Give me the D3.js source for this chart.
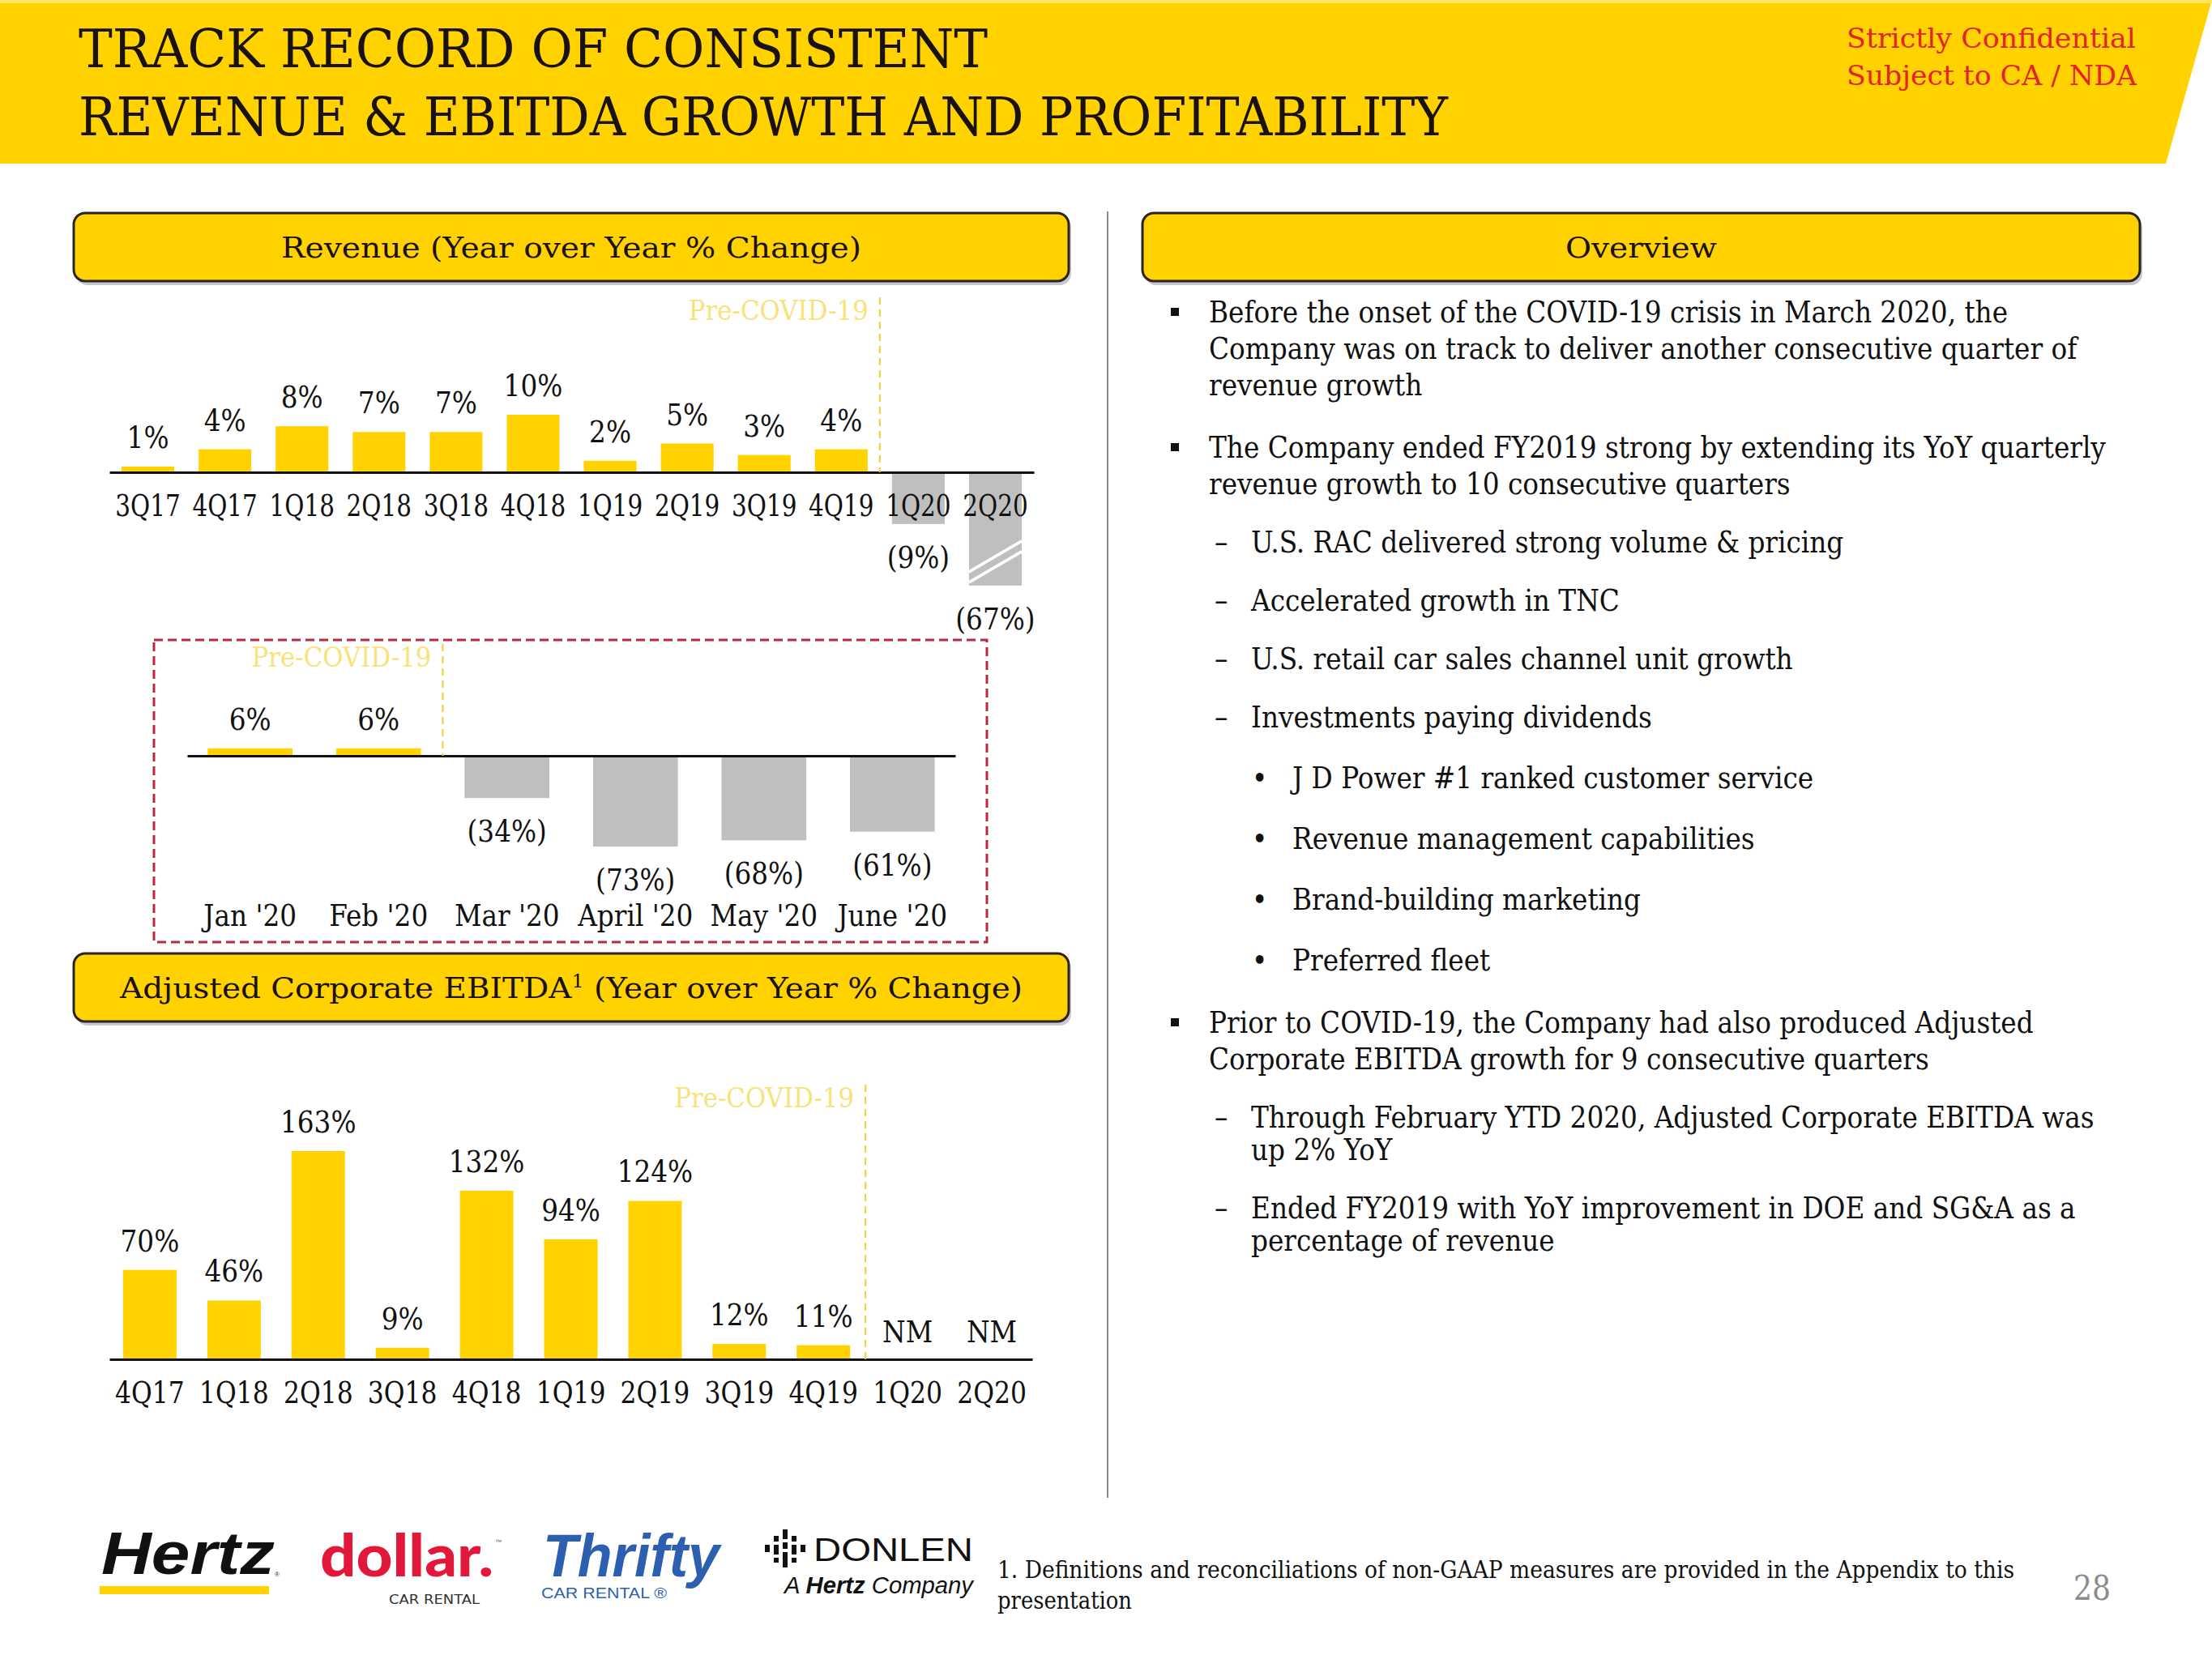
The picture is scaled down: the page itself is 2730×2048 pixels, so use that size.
<!DOCTYPE html>
<html><head><meta charset="utf-8">
<script src="https://cdn.jsdelivr.net/npm/d3@7/dist/d3.min.js"></script>
<style>html,body{margin:0;padding:0;background:#fff;} svg{display:block}</style>
</head><body>
<svg id="c" width="2730" height="2048"></svg>
<script>
// ---------------- DATA ----------------
const revenueQuarters = ["3Q17","4Q17","1Q18","2Q18","3Q18","4Q18","1Q19","2Q19","3Q19","4Q19","1Q20","2Q20"];
const revenueValues   = [1, 4, 8, 7, 7, 10, 2, 5, 3, 4, -9, -67];
const revenuePreCovidLast = "4Q19";

const monthLabels = ["Jan '20","Feb '20","Mar '20","April '20","May '20","June '20"];
const monthValues = [6, 6, -34, -73, -68, -61];
const monthPreCovidLast = "Feb '20";

const ebitdaQuarters = ["4Q17","1Q18","2Q18","3Q18","4Q18","1Q19","2Q19","3Q19","4Q19","1Q20","2Q20"];
const ebitdaValues   = [70, 46, 163, 9, 132, 94, 124, 12, 11, null, null];
const ebitdaPreCovidLast = "4Q19";

const overviewItems = [
  {level:0, lines:["Before the onset of the COVID-19 crisis in March 2020, the","Company was on track to deliver another consecutive quarter of","revenue growth"]},
  {level:0, lines:["The Company ended FY2019 strong by extending its YoY quarterly","revenue growth to 10 consecutive quarters"]},
  {level:1, lines:["U.S. RAC delivered strong volume & pricing"]},
  {level:1, lines:["Accelerated growth in TNC"]},
  {level:1, lines:["U.S. retail car sales channel unit growth"]},
  {level:1, lines:["Investments paying dividends"]},
  {level:2, lines:["J D Power #1 ranked customer service"]},
  {level:2, lines:["Revenue management capabilities"]},
  {level:2, lines:["Brand-building marketing"]},
  {level:2, lines:["Preferred fleet"]},
  {level:0, lines:["Prior to COVID-19, the Company had also produced Adjusted","Corporate EBITDA growth for 9 consecutive quarters"]},
  {level:1, lines:["Through February YTD 2020, Adjusted Corporate EBITDA was","up 2% YoY"]},
  {level:1, lines:["Ended FY2019 with YoY improvement in DOE and SG&A as a","percentage of revenue"]}
];

// ---------------- STYLE ----------------
const SERIF = "'DejaVu Serif Condensed','DejaVu Serif',serif";
const SANS = "'Liberation Sans',Arial,sans-serif";
const YELLOW = "#FFD200";
const GRAY = "#BFBFBF";
const PRE = "#F7E37A";
const fmt = v => v == null ? "NM" : (v >= 0 ? `${v}%` : `(${-v}%)`);

const svg = d3.select("#c");

function measure(text, size) {
  const t = svg.append("text").attr("font-family", SERIF).attr("font-size", size).text(text);
  const w = t.node().getComputedTextLength(); t.remove(); return w;
}
const SQ = 986 / measure("Before the onset of the COVID-19 crisis in March 2020, the", 38);

function squeeze(sel, f) {
  sel.each(function() {
    const w = this.getComputedTextLength();
    d3.select(this).attr("textLength", w * f).attr("lengthAdjust", "spacingAndGlyphs");
  });
  return sel;
}

function stext(g, x, y, txt, opt = {}) {
  const t = g.append("text")
    .attr("x", x).attr("y", y)
    .attr("font-family", SERIF).attr("font-size", opt.size || 38)
    .attr("fill", opt.fill || "#111")
    .attr("text-anchor", opt.anchor || "start")
    .text(txt);
  squeeze(t, SQ * (opt.f || 1));
  return t;
}

// ---------------- HEADER ----------------
svg.append("polygon").attr("points", "0,0 2730,0 2673,202 0,202").attr("fill", YELLOW);
svg.append("rect").attr("x",0).attr("y",0).attr("width",2730).attr("height",4).attr("fill","#FFE566");
svg.append("text").attr("x", 97).attr("y", 83).attr("font-family", SERIF).attr("font-size", 66)
  .attr("fill", "#1a1111").attr("textLength", 1122).attr("lengthAdjust", "spacingAndGlyphs")
  .text("TRACK RECORD OF CONSISTENT");
svg.append("text").attr("x", 97).attr("y", 167).attr("font-family", SERIF).attr("font-size", 66)
  .attr("fill", "#1a1111").attr("textLength", 1690).attr("lengthAdjust", "spacingAndGlyphs")
  .text("REVENUE & EBITDA GROWTH AND PROFITABILITY");
svg.append("text").attr("x", 2279).attr("y", 59).attr("font-family", SERIF).attr("font-size", 34)
  .attr("fill", "#E3242B").attr("textLength", 357).attr("lengthAdjust", "spacingAndGlyphs")
  .text("Strictly Confidential");
svg.append("text").attr("x", 2279).attr("y", 105).attr("font-family", SERIF).attr("font-size", 34)
  .attr("fill", "#E3242B").attr("textLength", 358).attr("lengthAdjust", "spacingAndGlyphs")
  .text("Subject to CA / NDA");

// ---------------- TITLE BOXES ----------------
function titleBox(x, y, w, h, tl, baseline, build) {
  svg.append("rect").attr("x", x + 3).attr("y", y + 5).attr("width", w).attr("height", h).attr("rx", 14)
    .attr("fill", "#9a9a9a").attr("opacity", 0.55);
  svg.append("rect").attr("x", x).attr("y", y).attr("width", w).attr("height", h).attr("rx", 14)
    .attr("fill", YELLOW).attr("stroke", "#2a2326").attr("stroke-width", 3);
  const t = svg.append("text").attr("x", x + w / 2).attr("y", baseline).attr("text-anchor", "middle")
    .attr("font-family", SERIF).attr("font-size", 36).attr("fill", "#1a1111")
    .attr("textLength", tl).attr("lengthAdjust", "spacingAndGlyphs");
  build(t);
}
titleBox(91, 263, 1228, 84, 716, 318, t => t.text("Revenue (Year over Year % Change)"));
titleBox(91, 1177, 1228, 84, 1114, 1232, t => {
  t.append("tspan").text("Adjusted Corporate EBITDA");
  t.append("tspan").attr("font-size", 22).attr("dy", -13).text("1");
  t.append("tspan").attr("dy", 13).text(" (Year over Year % Change)");
});
titleBox(1410, 263, 1231, 84, 187, 318, t => t.text("Overview"));

// separator
svg.append("line").attr("x1", 1367).attr("x2", 1367).attr("y1", 261).attr("y2", 1849)
  .attr("stroke", "#8a8a8a").attr("stroke-width", 2);

// ---------------- GENERIC BAR CHART ----------------
function barChart(cfg) {
  const g = svg.append("g");
  const x = d3.scaleBand().domain(cfg.cats).range(cfg.xRange)
    .paddingInner(cfg.padIn).paddingOuter(cfg.padOut);
  const y = d3.scaleLinear().domain(cfg.yDomain).range(cfg.yRange);
  const y0 = y(0);
  const data = cfg.cats.map((c, i) => ({c, v: cfg.vals[i], i}));
  const shown = v => cfg.floor != null ? Math.max(v, cfg.floor) : v;

  g.selectAll("rect.bar").data(data.filter(d => d.v != null)).join("rect")
    .attr("class", "bar")
    .attr("x", d => x(d.c)).attr("width", x.bandwidth())
    .attr("y", d => Math.min(y(shown(d.v)), y0))
    .attr("height", d => Math.abs(y(shown(d.v)) - y0))
    .attr("fill", d => d.i <= cfg.preIdx ? YELLOW : GRAY);

  // break marks for truncated bars
  data.filter(d => d.v != null && cfg.floor != null && d.v < cfg.floor).forEach(d => {
    const yb = y(cfg.floor), xl = x(d.c), xr = x(d.c) + x.bandwidth();
    [4, 17].forEach(o => g.append("line")
      .attr("x1", xl).attr("y1", yb - o).attr("x2", xr).attr("y2", yb - o - 38)
      .attr("stroke", "#fff").attr("stroke-width", 3.5));
  });

  // value labels
  data.forEach(d => {
    const cx = x(d.c) + x.bandwidth() / 2;
    let ly;
    if (d.v == null) ly = y0 - 21;
    else if (d.v >= 0) ly = y(d.v) - 23;
    else ly = y(shown(d.v)) + 54;
    stext(g, cx, ly, fmt(d.v), {anchor: "middle"});
  });

  // axis
  const ax = g.append("g").attr("transform", `translate(0,${y0})`)
    .call(d3.axisBottom(x).tickSize(0).tickSizeOuter(0));
  ax.select(".domain").attr("stroke", "#111").attr("stroke-width", 3);
  const tt = ax.selectAll(".tick text").attr("y", cfg.labelOff).attr("dy", 0)
    .attr("font-family", SERIF).attr("font-size", 38).attr("fill", "#111");
  squeeze(tt, SQ * cfg.tickF);

  // pre-covid marker
  const lx = x(cfg.cats[cfg.preIdx]) + x.bandwidth() + x.step() * cfg.padIn / 2;
  g.append("line").attr("x1", lx).attr("x2", lx).attr("y1", cfg.preY - 28).attr("y2", y0)
    .attr("stroke", "#F2CE2E").attr("stroke-width", 2).attr("stroke-dasharray", "9,6");
  g.append("text").attr("x", lx - 14).attr("y", cfg.preY).attr("text-anchor", "end")
    .attr("font-family", SERIF).attr("font-size", 34).attr("fill", PRE)
    .attr("textLength", 222).attr("lengthAdjust", "spacingAndGlyphs").text("Pre-COVID-19");
  return g;
}

barChart({
  cats: revenueQuarters, vals: revenueValues,
  xRange: [135, 1276], padIn: 0.316, padOut: 0.158,
  yDomain: [0, 10], yRange: [583, 512], floor: -19.7,
  preIdx: revenueQuarters.indexOf(revenuePreCovidLast), preY: 395, labelOff: 54, tickF: 0.9
});

// monthly dashed box
svg.append("rect").attr("x", 190).attr("y", 790).attr("width", 1028).attr("height", 373)
  .attr("fill", "none").attr("stroke", "#B8283F").attr("stroke-width", 3).attr("stroke-dasharray", "11,6");

barChart({
  cats: monthLabels, vals: monthValues,
  xRange: [231, 1179], padIn: 0.34, padOut: 0.16,
  yDomain: [0, -73], yRange: [933, 1045], floor: null,
  preIdx: monthLabels.indexOf(monthPreCovidLast), preY: 823, labelOff: 210, tickF: 1
});

barChart({
  cats: ebitdaQuarters, vals: ebitdaValues,
  xRange: [135, 1274], padIn: 0.365, padOut: 0.163,
  yDomain: [0, 163], yRange: [1678, 1421], floor: null,
  preIdx: ebitdaQuarters.indexOf(ebitdaPreCovidLast), preY: 1367, labelOff: 54, tickF: 0.96
});

// ---------------- OVERVIEW TEXT ----------------
const ov = svg.append("g");
const lineH = {0: 45, 1: 40, 2: 45}, gapB = {0: 77, 1: 72, 2: 75};
const textX = {0: 1492, 1: 1544, 2: 1595};
let yy = null;
overviewItems.forEach(it => {
  yy = yy == null ? 398 : yy + gapB[it.level];
  if (it.level === 0) ov.append("rect").attr("x", 1445).attr("y", yy - 18).attr("width", 10).attr("height", 10).attr("fill", "#111");
  if (it.level === 1) stext(ov, 1499, yy, "–");
  if (it.level === 2) stext(ov, 1545, yy, "•");
  it.lines.forEach((ln, k) => {
    if (k > 0) yy += lineH[it.level];
    stext(ov, textX[it.level], yy, ln);
  });
});

// ---------------- FOOTER ----------------
svg.append("text").attr("x", 1231).attr("y", 1948).attr("font-family", SERIF).attr("font-size", 30)
  .attr("fill", "#111").attr("textLength", 1255).attr("lengthAdjust", "spacingAndGlyphs")
  .text("1. Definitions and reconciliations of non-GAAP measures are provided in the Appendix to this");
stext(svg, 1231, 1986, "presentation", {size: 30});
stext(svg, 2582, 1975, "28", {size: 42, fill: "#8c8c8c", anchor: "middle"});

// logos
const lg = svg.append("g");
lg.append("text").attr("x", 125).attr("y", 1943).attr("font-family", SANS).attr("font-weight", 700)
  .attr("font-style", "italic").attr("font-size", 74).attr("fill", "#111")
  .attr("textLength", 214).attr("lengthAdjust", "spacingAndGlyphs").text("Hertz");
lg.append("text").attr("x", 339).attr("y", 1946).attr("font-family", SANS).attr("font-size", 8).attr("fill", "#333").text("®");
lg.append("rect").attr("x", 123).attr("y", 1958).attr("width", 209).attr("height", 10).attr("fill", "#FFD100");

lg.append("text").attr("x", 395).attr("y", 1946).attr("font-family", "Lato, 'Open Sans', sans-serif").attr("font-weight", 900)
  .attr("font-size", 72).attr("fill", "#E2173A")
  .attr("textLength", 214).attr("lengthAdjust", "spacingAndGlyphs").text("dollar.");
lg.append("text").attr("x", 611).attr("y", 1906).attr("font-family", SANS).attr("font-size", 8).attr("fill", "#666").text("™");
lg.append("text").attr("x", 480).attr("y", 1980).attr("font-family", "'DejaVu Sans', sans-serif").attr("font-size", 15)
  .attr("fill", "#333").attr("textLength", 112).attr("lengthAdjust", "spacingAndGlyphs").text("CAR RENTAL");

lg.append("text").attr("x", 670).attr("y", 1946).attr("font-family", SANS).attr("font-weight", 900)
  .attr("font-style", "italic").attr("font-size", 74).attr("fill", "#2D5FB0")
  .attr("textLength", 218).attr("lengthAdjust", "spacingAndGlyphs").text("Thrifty");
lg.append("text").attr("x", 668).attr("y", 1973).attr("font-family", SANS).attr("font-size", 18)
  .attr("fill", "#2D5FB0").attr("textLength", 155).attr("lengthAdjust", "spacingAndGlyphs").text("CAR RENTAL ®");

// Donlen icon
const icon = [[0, [[1907, 1916]]], [11, [[1896, 1903], [1907, 1919], [1923, 1929]]],
              [22, [[1888, 1900], [1904, 1912], [1916, 1935]]], [33, [[1896, 1903], [1907, 1919], [1923, 1929]]],
              [44, [[1907, 1916]]]];
icon.forEach(([dx, segs]) => segs.forEach(([a, b]) =>
  lg.append("rect").attr("x", 944 + dx).attr("y", a).attr("width", 6).attr("height", b - a).attr("fill", "#111")));
lg.append("text").attr("x", 1004).attr("y", 1927).attr("font-family", SANS).attr("font-size", 40)
  .attr("fill", "#111").attr("textLength", 197).attr("lengthAdjust", "spacingAndGlyphs").text("DONLEN");
const ah = lg.append("text").attr("x", 968).attr("y", 1967).attr("font-family", SANS).attr("font-size", 30)
  .attr("font-style", "italic").attr("fill", "#111").attr("textLength", 233).attr("lengthAdjust", "spacingAndGlyphs");
ah.append("tspan").text("A ");
ah.append("tspan").attr("font-weight", 700).text("Hertz");
ah.append("tspan").text(" Company");
</script>
</body></html>
